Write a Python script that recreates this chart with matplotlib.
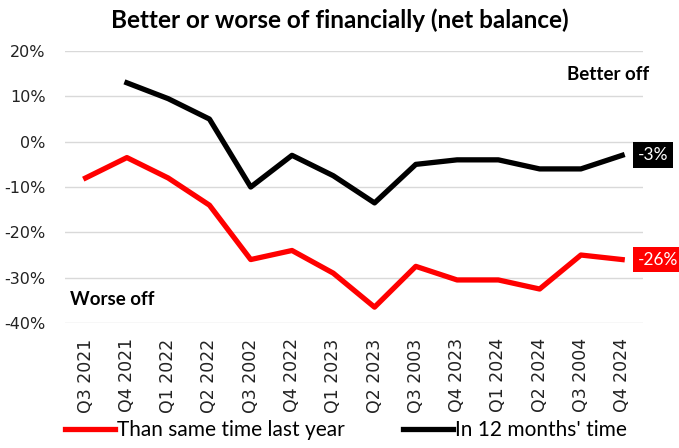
import numpy as np
import matplotlib.pyplot as plt
from matplotlib.ticker import FuncFormatter

plt.rcParams['axes.unicode_minus'] = False

# quarters and net balances (%)
quarters = ['Q3 2021', 'Q4 2021', 'Q1 2022', 'Q2 2022', 'Q3 2002', 'Q4 2022', 'Q1 2023',
            'Q2 2023', 'Q3 2003', 'Q4 2023', 'Q1 2024', 'Q2 2024', 'Q3 2004', 'Q4 2024']
last_year = [-8, -3.5, -8, -14, -26, -24, -29, -36.5, -27.5, -30.5, -30.5, -32.5, -25, -26]
next_year = [np.nan, 13, 9.5, 5, -10, -3, -7.5, -13.5, -5, -4, -4, -6, -6, -3]

red = '#ff0000'
black = '#000000'

fig = plt.figure(figsize=(6.79, 4.48), dpi=100)
ax = fig.add_axes([0.0957, 0.279, 0.851, 0.607])

x = np.arange(len(quarters))
ax.plot(x, last_year, color=red, lw=3.8, label='Than same time last year')
ax.plot(x, next_year, color=black, lw=3.8, label="In 12 months' time")

ax.set_xlim(-0.5, len(quarters) - 0.5)
ax.set_ylim(-40, 20)
ax.set_yticks(np.arange(-40, 21, 10))
ax.yaxis.set_major_formatter(FuncFormatter(lambda v, p: f'{v:.0f}%'))
ax.set_xticks(x)
ax.set_xticklabels(quarters, rotation=90)
ax.tick_params(axis='y', length=0, pad=14, labelsize=11.5, colors='#222222')
ax.tick_params(axis='x', length=0, pad=11, labelsize=12.5, colors='#222222')
ax.grid(axis='y', color='#d9d9d9', lw=1)
ax.set_axisbelow(True)
for s in ax.spines.values():
    s.set_visible(False)

# end-of-line value boxes
for vals, c in [(next_year, black), (last_year, red)]:
    v = vals[-1]
    ax.annotate(f'{v:.0f}%', xy=(x[-1], v), xytext=(11, 0), textcoords='offset points',
                ha='left', va='center', color='white', fontsize=12.5, family='Lato',
                bbox=dict(boxstyle='square,pad=0.28', fc=c, ec='none'),
                annotation_clip=False)

ax.text(0.868, 0.915, 'Better off', transform=ax.transAxes, fontsize=13.5,
        fontweight='bold', family='Lato', va='center', ha='left')
ax.text(0.009, 0.085, 'Worse off', transform=ax.transAxes, fontsize=13.5,
        fontweight='bold', family='Lato', va='center', ha='left')

fig.text(0.5, 0.955, 'Better or worse of financially (net balance)', ha='center',
         va='center', fontsize=17.5, fontweight='bold', family='Lato')

fig.legend(loc='lower center', bbox_to_anchor=(0.51, -0.025), ncol=2, frameon=False,
           prop={'family': 'Lato', 'size': 15}, handlelength=2.4, handletextpad=0.1,
           columnspacing=2.8)

fig.savefig('out.png', dpi=100)
